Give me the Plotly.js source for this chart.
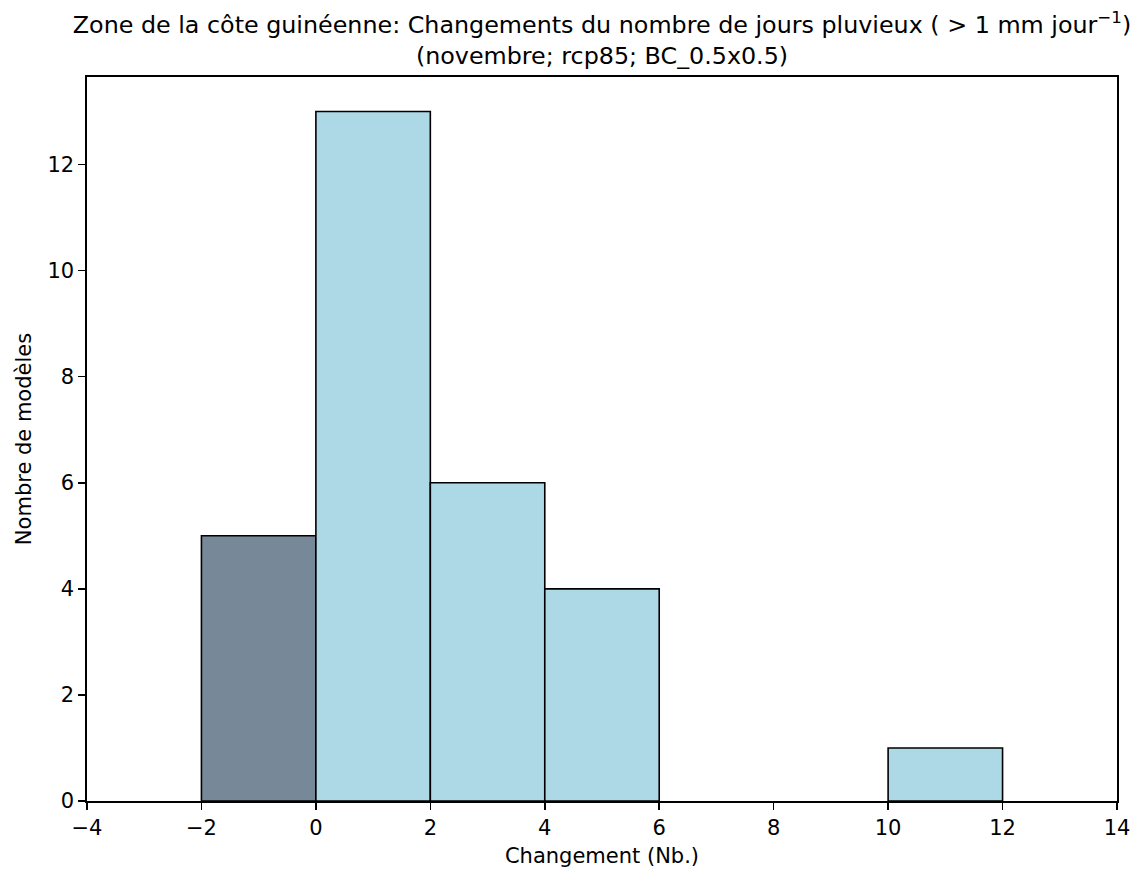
<!DOCTYPE html>
<html><head><meta charset="utf-8">
<script src="https://cdn.plot.ly/plotly-3.0.1.min.js"></script>
<style>body{margin:0;background:#fff}#c{width:1136px;height:869px}</style>
</head><body><div id="c"></div>
<script>
const binLeft = [-2, 0, 2, 4, 6, 8, 10];
const binWidth = 2;
const counts = [5, 13, 6, 4, 0, 0, 1];
const negColor = '#778899';
const posColor = '#add8e6';
const xTicks = [-4, -2, 0, 2, 4, 6, 8, 10, 12, 14];
const yTicks = [0, 2, 4, 6, 8, 10, 12];

const xs = [], ys = [], cols = [];
binLeft.forEach((b, i) => {
  if (counts[i] <= 0) return;
  xs.push(b + binWidth / 2); ys.push(counts[i]);
  cols.push(b < 0 ? negColor : posColor);
});

const data = [{
  type: 'bar', x: xs, y: ys, width: binWidth,
  marker: {color: cols, line: {color: '#000', width: 1.6}},
  hoverinfo: 'skip'
}];
const font = {family: 'DejaVu Sans', size: 21, color: '#000'};
const layout = {
  width: 1136, height: 869,
  margin: {l: 87, r: 19, t: 77, b: 68},
  paper_bgcolor: '#fff', plot_bgcolor: '#fff',
  font: font, showlegend: false, bargap: 0,
  title: {
    text: 'Zone de la côte guinéenne: Changements du nombre de jours pluvieux ( > 1 mm jour<sup>−1</sup>)<br>(novembre; rcp85; BC_0.5x0.5)',
    font: {family: 'DejaVu Sans', size: 23.8, color: '#000'},
    x: 0.5, xanchor: 'center', xref: 'paper', y: 0.9615, yanchor: 'middle'
  },
  xaxis: {
    range: [-4, 14], tickvals: xTicks, ticktext: xTicks.map(v => v < 0 ? '−' + Math.abs(v) : String(v)),
    ticks: 'outside', ticklen: 7, tickwidth: 1.6, tickcolor: '#000',
    showline: true, linecolor: '#000', linewidth: 1.6, mirror: true,
    showgrid: false, zeroline: false,
    title: {text: 'Changement (Nb.)', font: font, standoff: 9}
  },
  yaxis: {
    range: [0, 13.65], tickvals: yTicks,
    ticks: 'outside', ticklen: 7, tickwidth: 1.6, tickcolor: '#000',
    showline: true, linecolor: '#000', linewidth: 1.6, mirror: true,
    showgrid: false, zeroline: false,
    title: {text: 'Nombre de modèles', font: font, standoff: 10}
  }
};
Plotly.newPlot('c', data, layout, {displayModeBar: false, staticPlot: true});
</script></body></html>
